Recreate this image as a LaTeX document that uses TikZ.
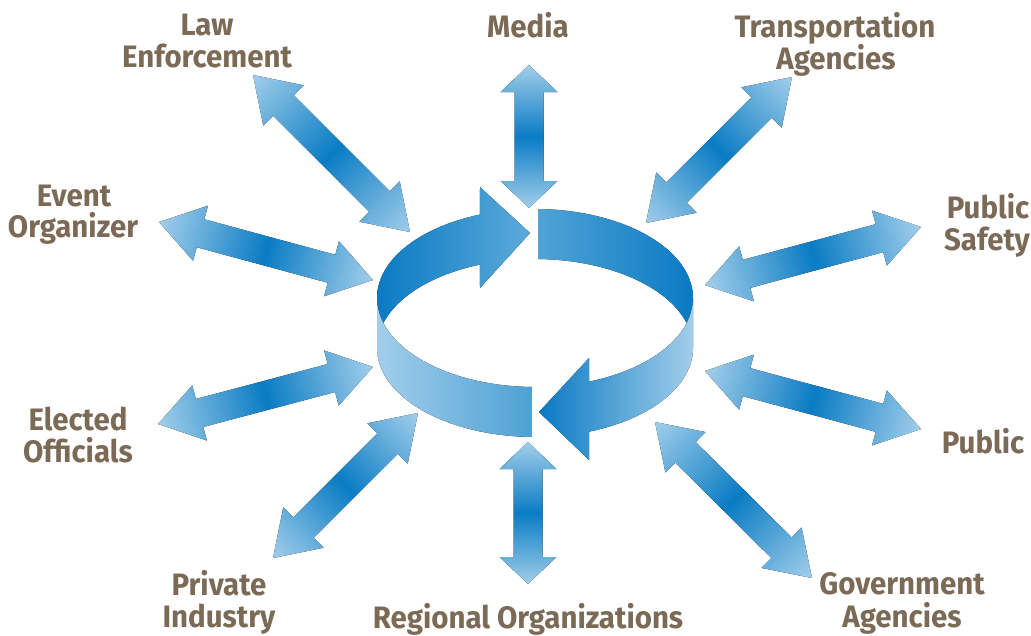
\documentclass[tikz,border=0pt]{standalone}
\usepackage{fontspec}
\setmainfont{Fira Sans}
\definecolor{lbl}{RGB}{122,106,86}
\definecolor{adark}{RGB}{10,124,196}
\definecolor{alight}{RGB}{162,206,234}
\definecolor{rdark}{RGB}{10,122,195}
\definecolor{rmidA}{RGB}{92,170,218}
\definecolor{rmidB}{RGB}{80,163,214}
\definecolor{rmidC}{RGB}{78,161,213}
\definecolor{rlight}{RGB}{162,206,234}
\newcommand{\dblarrow}[5]{%
  \pgfmathsetmacro\dcx{(#1+#3)/2}%
  \pgfmathsetmacro\dcy{(#2+#4)/2}%
  \pgfmathsetmacro\dang{atan2(-(#4-#2),(#3-#1))}%
  \pgfmathsetmacro\dhl{veclen(#3-#1,#4-#2)/2}%
  \pgfmathsetmacro\dhb{\dhl-#5}%
  \begin{scope}[transform canvas={shift={(\dcx,\dcy)},rotate=\dang}]
    \fill[left color=alight,right color=alight,middle color=adark]
      (-\dhl,0) -- (-\dhb,28.5) -- (-\dhb,14.5) -- (\dhb,14.5) -- (\dhb,28.5)
      -- (\dhl,0) -- (\dhb,-28.5) -- (\dhb,-14.5) -- (-\dhb,-14.5) -- (-\dhb,-28.5) -- cycle;
  \end{scope}}
\begin{document}
\begin{tikzpicture}[x=1pt,y=-1pt,
  lab/.style={text=lbl,font=\fontsize{31}{32}\selectfont\bfseries,anchor=base,inner sep=0pt,xscale=0.95,transform shape}]
\useasboundingbox (0,0) rectangle (1031,635);
\fill[white] (0,0) rectangle (1031,635);
% ---- central ring ----
% back-left piece with arrowhead
\fill[left color=rdark,right color=rmidA]
  plot[domain=-110.4:-196.3,samples=50] ({535+158*cos(\x)},{298+89*sin(\x)})
  -- plot[domain=-163.7:-110.4,samples=50] ({535+158*cos(\x)},{348+89*sin(\x)})
  -- (480,288) -- (530,233) -- (480,187) -- cycle;
% back-right piece
\fill[left color=rmidB,right color=rdark]
  plot[domain=-88.9:16.3,samples=50] ({535+158*cos(\x)},{298+89*sin(\x)})
  -- plot[domain=-16.3:-88.9,samples=50] ({535+158*cos(\x)},{348+89*sin(\x)})
  -- cycle;
% front-right piece with arrowhead
\fill[left color=rdark,right color=rlight]
  plot[domain=70:0,samples=50] ({535+158*cos(\x)},{298+89*sin(\x)})
  -- plot[domain=0:70,samples=50] ({535+158*cos(\x)},{348+89*sin(\x)})
  -- (589,460) -- (539,412) -- (589,358) -- cycle;
% front-left piece
\fill[left color=rlight,right color=rmidC]
  plot[domain=91.1:180,samples=50] ({535+158*cos(\x)},{298+89*sin(\x)})
  -- plot[domain=180:91.1,samples=50] ({535+158*cos(\x)},{348+89*sin(\x)})
  -- cycle;
% ---- double arrows ----
\dblarrow{253}{75}{410}{232}{43}
\dblarrow{529}{65}{529}{208}{27}
\dblarrow{646}{223}{792}{77}{43}
\dblarrow{159}{222}{373}{280}{43}
\dblarrow{705}{285}{921}{227}{43}
\dblarrow{158}{424}{373}{367}{43}
\dblarrow{705}{371}{921}{429}{43}
\dblarrow{273}{558}{418}{413}{43}
\dblarrow{528}{442}{528}{584}{27}
\dblarrow{655}{422}{812}{578}{43}
% ---- labels ----
\node[lab] (law1) at (207,35) {Law};
\node[lab] (law2) at (207,67) {Enforcement};
\node[lab] (media) at (528,37) {Media};
\node[lab] (trans1) at (835,37) {Transportation};
\node[lab] (trans2) at (836,69) {Agencies};
\node[lab] (event1) at (74,206) {Event};
\node[lab] (event2) at (73,237) {Organizer};
\node[lab] (safe1) at (988,218) {Public};
\node[lab] (safe2) at (987,250) {Safety};
\node[lab] (elect1) at (78,430) {Elected};
\node[lab] (elect2) at (78,462) {Officials};
\node[lab] (public) at (983,453) {Public};
\node[lab] (priv1) at (219,595) {Private};
\node[lab] (priv2) at (219,627) {Industry};
\node[lab] (region) at (528,628) {Regional Organizations};
\node[lab] (gov1) at (902,594) {Government};
\node[lab] (gov2) at (902,627) {Agencies};
\end{tikzpicture}
\end{document}
